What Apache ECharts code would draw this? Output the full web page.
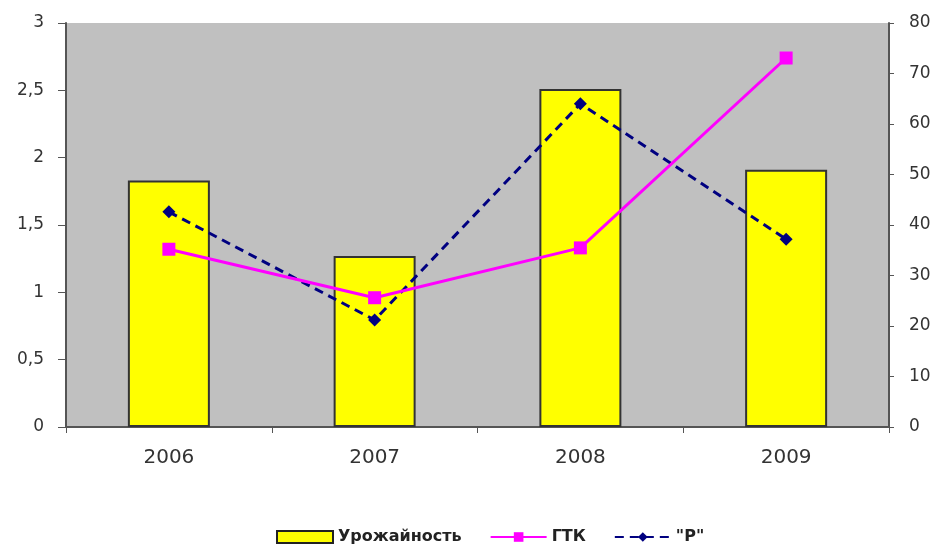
<!DOCTYPE html>
<html><head><meta charset="utf-8">
<script src="https://cdn.jsdelivr.net/npm/echarts@6/dist/echarts.min.js"></script>
<style>html,body{margin:0;padding:0;background:#fff}#c{width:938px;height:547px}</style>
</head><body><div id="c"></div>
<script>
const categories = ['2006','2007','2008','2009'];
const yieldValues = [1.83, 1.27, 2.51, 1.91];
const gtkValues = [1.32, 0.96, 1.33, 2.74];
const pValues = [42.6, 21.2, 64.0, 37.2];
const leftTicks = {min:0, max:3, interval:0.5};
const rightTicks = {min:0, max:80, interval:10};

const chart = echarts.init(document.getElementById('c'), null, {renderer:'canvas'});
const font = '"DejaVu Sans", Verdana, sans-serif';
chart.setOption({
  animation:false,
  backgroundColor:'#fff',
  textStyle:{fontFamily:font},
  grid:{left:66, right:49, top:23, bottom:120, show:true, backgroundColor:'#c0c0c0', borderWidth:0},
  legend:{
    top:524, left:271, itemGap:28, itemWidth:56, itemHeight:12,
    textStyle:{fontFamily:font, fontSize:16, fontWeight:'bold', color:'#222'},
    data:[
      {name:'Урожайность', icon:'rect', itemStyle:{color:'#ffff00', borderColor:'#222', borderWidth:2}},
      {name:'ГТК'},
      {name:'"Р"'}
    ]
  },
  xAxis:{
    type:'category', data:categories, boundaryGap:true,
    axisLine:{lineStyle:{color:'#555', width:2}},
    axisTick:{show:true, length:6, lineStyle:{color:'#555'}},
    axisLabel:{fontSize:20, color:'#333', margin:21, fontFamily:font},
    splitLine:{show:false}
  },
  yAxis:[
    {type:'value', min:leftTicks.min, max:leftTicks.max, interval:leftTicks.interval, position:'left',
     axisLine:{show:true, lineStyle:{color:'#555', width:2}},
     axisTick:{show:true, length:8, lineStyle:{color:'#555'}},
     axisLabel:{fontSize:17, color:'#333', margin:22, fontFamily:font,
       formatter:v=>String(v).replace('.',',')},
     splitLine:{show:false}},
    {type:'value', min:rightTicks.min, max:rightTicks.max, interval:rightTicks.interval, position:'right',
     axisLine:{show:true, lineStyle:{color:'#555', width:2}},
     axisTick:{show:true, length:5, lineStyle:{color:'#555'}},
     axisLabel:{fontSize:17, color:'#333', margin:20, fontFamily:font},
     splitLine:{show:false}}
  ],
  series:[
    {name:'Урожайность', type:'bar', yAxisIndex:0, data:yieldValues, barWidth:82,
     itemStyle:{color:'#ffff00', borderColor:'#333', borderWidth:2}, z:2},
    {name:'ГТК', type:'line', yAxisIndex:0, data:gtkValues, symbol:'rect', symbolSize:13,
     lineStyle:{color:'#ff00ff', width:3}, itemStyle:{color:'#ff00ff'}, z:4},
    {name:'"Р"', type:'line', yAxisIndex:1, data:pValues, symbol:'diamond', symbolSize:13,
     lineStyle:{color:'#000080', width:3, type:[9,6]}, itemStyle:{color:'#000080'}, z:3}
  ]
});
</script></body></html>
